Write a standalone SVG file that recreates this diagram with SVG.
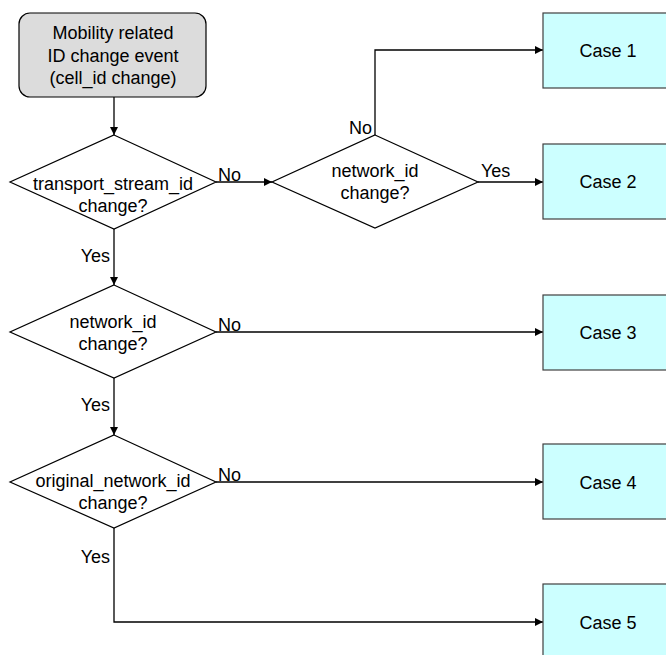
<svg xmlns="http://www.w3.org/2000/svg" width="666" height="655" viewBox="0 0 666 655">
  <defs>
    <marker id="arrow" viewBox="0 0 10 10" refX="10" refY="5" markerWidth="9" markerHeight="8" markerUnits="userSpaceOnUse" orient="auto">
      <path d="M0,0 L10,5 L0,10 z" fill="#000"/>
    </marker>
    <style>
      text { font-family: "Liberation Sans", Arial, sans-serif; font-size: 18px; fill: #000; }
      .mid { text-anchor: middle; }
      .end { text-anchor: end; }
      .start-box { fill: #dcdcdc; stroke: #000; stroke-width: 1.2; }
      .decision { fill: #fff; stroke: #000; stroke-width: 1.2; }
      .case { fill: #ccffff; stroke: #404040; stroke-width: 1.2; }
      .conn { fill: none; stroke: #000; stroke-width: 1.3; marker-end: url(#arrow); }
    </style>
  </defs>
  <rect width="666" height="655" fill="#fff"/>

  <!-- connectors -->
  <g id="connectors">
    <path class="conn" d="M114,97 L114,135"/>
    <path class="conn" d="M216,182 L272,182"/>
    <path class="conn" d="M375,135 L375,50 L543,50"/>
    <path class="conn" d="M478,182 L543,182"/>
    <path class="conn" d="M114,229 L114,285"/>
    <path class="conn" d="M216,332 L543,332"/>
    <path class="conn" d="M114,378 L114,435"/>
    <path class="conn" d="M216,482 L543,482"/>
    <path class="conn" d="M114,528 L114,622 L543,622"/>
    <!-- branch labels -->
    <text x="218" y="181">No</text>
    <text class="end" x="372" y="134">No</text>
    <text x="481" y="177">Yes</text>
    <text class="end" x="110" y="262">Yes</text>
    <text x="218" y="331">No</text>
    <text class="end" x="110" y="411">Yes</text>
    <text x="218" y="481">No</text>
    <text class="end" x="110" y="563">Yes</text>
  </g>

  <g id="start">
    <rect class="start-box" x="19" y="13" width="187" height="84" rx="11" ry="11"/>
    <text class="mid" x="113" y="39">Mobility related</text>
    <text class="mid" x="113" y="62">ID change event</text>
    <text class="mid" x="113" y="84">(cell_id change)</text>
  </g>

  <g id="tsid-check">
    <polygon class="decision" points="114,135 216,182 114,229 10,182"/>
    <text class="mid" x="113" y="190">transport_stream_id</text>
    <text class="mid" x="113" y="212">change?</text>
  </g>

  <g id="nid-check-upper">
    <polygon class="decision" points="375,135 478,182 375,228 272,182"/>
    <text class="mid" x="375" y="177">network_id</text>
    <text class="mid" x="375" y="199">change?</text>
  </g>

  <g id="nid-check-lower">
    <polygon class="decision" points="114,285 216,332 114,378 10,332"/>
    <text class="mid" x="113" y="328">network_id</text>
    <text class="mid" x="113" y="350">change?</text>
  </g>

  <g id="onid-check">
    <polygon class="decision" points="114,435 216,482 114,528 10,482"/>
    <text class="mid" x="113" y="487">original_network_id</text>
    <text class="mid" x="113" y="509">change?</text>
  </g>

  <g id="case1">
    <rect class="case" x="543" y="13" width="130" height="75"/>
    <text class="mid" x="608" y="57">Case 1</text>
  </g>
  <g id="case2">
    <rect class="case" x="543" y="144" width="130" height="75"/>
    <text class="mid" x="608" y="188">Case 2</text>
  </g>
  <g id="case3">
    <rect class="case" x="543" y="295" width="130" height="75"/>
    <text class="mid" x="608" y="339">Case 3</text>
  </g>
  <g id="case4">
    <rect class="case" x="543" y="444" width="130" height="75"/>
    <text class="mid" x="608" y="489">Case 4</text>
  </g>
  <g id="case5">
    <rect class="case" x="543" y="584" width="130" height="75"/>
    <text class="mid" x="608" y="629">Case 5</text>
  </g>
</svg>
